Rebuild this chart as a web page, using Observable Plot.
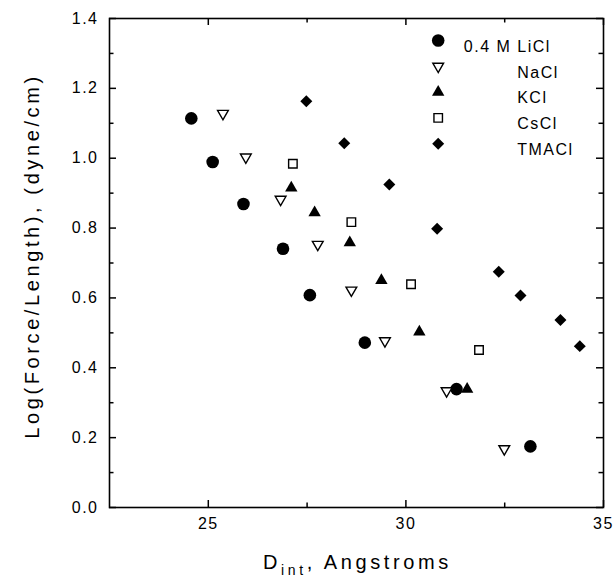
<!DOCTYPE html>
<html><head><meta charset="utf-8">
<script src="https://cdn.jsdelivr.net/npm/d3@7"></script>
<script src="https://cdn.jsdelivr.net/npm/@observablehq/plot@0.6"></script>
<style>
body{margin:0;background:#fff}
#chart{width:615px;height:577px}
#chart svg text{letter-spacing:1.5px}
</style>
</head><body><div id="chart"></div>
<script>
// Data
const liclX  = [24.57, 25.11, 25.89, 26.89, 27.57, 28.96, 31.28, 33.15];
const liclY  = [1.114, 0.989, 0.869, 0.741, 0.608, 0.472, 0.339, 0.175];
const naclX  = [25.37, 25.95, 26.83, 27.77, 28.62, 29.47, 31.03, 32.49];
const naclY  = [1.128, 1.003, 0.882, 0.753, 0.622, 0.477, 0.334, 0.168];
const kclX   = [27.10, 27.69, 28.58, 29.38, 30.34, 31.55];
const kclY   = [0.915, 0.844, 0.758, 0.650, 0.503, 0.339];
const csclX  = [27.14, 28.62, 30.13, 31.85];
const csclY  = [0.984, 0.817, 0.639, 0.451];
const tmaclX = [27.48, 28.44, 29.58, 30.79, 32.35, 32.90, 33.91, 34.40];
const tmaclY = [1.163, 1.043, 0.925, 0.798, 0.675, 0.607, 0.537, 0.462];
const seriesNames = ["0.4 M LiCl", "NaCl", "KCl", "CsCl", "TMACl"];
const xTicks = [25, 30, 35];
const xMinorTicks = [27.5, 32.5];
const yTicks = [0, 0.2, 0.4, 0.6, 0.8, 1.0, 1.2, 1.4];
const yMinorTicks = [0.1, 0.3, 0.5, 0.7, 0.9, 1.1, 1.3];
const xDomain = [22.5, 35];
const yDomain = [0, 1.4];
const xLabelMain = "D", xLabelSub = "int", xLabelRest = ", Angstroms";
const yLabel = "Log(Force/Length), (dyne/cm)";

const toRows = (xs, ys) => xs.map((x, i) => ({x, y: ys[i]}));
const styles = [
  {rows: toRows(liclX, liclY),  symbol: "circle",   r: 6.3, fill: "black", stroke: "none", rotate: 0},
  {rows: toRows(naclX, naclY),  symbol: "triangle", r: 4.0, fill: "white", stroke: "black", rotate: 180},
  {rows: toRows(kclX, kclY),    symbol: "triangle", r: 4.6, fill: "black", stroke: "none", rotate: 0},
  {rows: toRows(csclX, csclY),  symbol: "square",   r: 4.8, fill: "white", stroke: "black", rotate: 0},
  {rows: toRows(tmaclX, tmaclY),symbol: "diamond2", r: 5.4, fill: "black", stroke: "none", rotate: 0}
];

const W = 615, H = 577, ml = 109, mr = 12, mt = 18, mb = 70;
const plotW = W - ml - mr, plotH = H - mt - mb;
const major = 7, minor = 4.5;
const marks = [];
styles.forEach((s, i) => {
  marks.push(Plot.dot(s.rows, {x: "x", y: "y", symbol: () => s.symbol, r: s.r, fill: s.fill, stroke: s.stroke, strokeWidth: 1.4, rotate: s.rotate}));
  // legend entry
  marks.push(Plot.dot([seriesNames[i]], {frameAnchor: "top-left", dx: 437.7 - ml, dy: 40 - mt + i * 25.8, symbol: () => s.symbol, r: s.r, fill: s.fill, stroke: s.stroke, strokeWidth: 1.4, rotate: s.rotate}));
  marks.push(Plot.text([seriesNames[i]], {text: d => d, frameAnchor: "top-left", dx: (i === 0 ? 463.3 : 516.7) - ml, dy: 40 - mt + i * 25.8, textAnchor: "start", fontSize: 16, fill: "black"}));
});

const tickStyle = {stroke: "black", strokeWidth: 1.5};
const chart = Plot.plot({
  width: W, height: H,
  marginLeft: ml, marginRight: mr, marginTop: mt, marginBottom: mb,
  style: {fontFamily: "'Liberation Sans', Arial, sans-serif", fontSize: "16px", color: "black", background: "white"},
  x: {domain: xDomain, axis: null},
  y: {domain: yDomain, axis: null},
  symbol: {type: "identity"},
  marks: [
    Plot.axisX(xTicks, {anchor: "bottom", tickSize: 0, tickPadding: 10, label: null, fontSize: 16}),
    Plot.axisY(yTicks, {anchor: "left", tickSize: 0, tickPadding: 11, tickFormat: d3.format(".1f"), label: null, fontSize: 16}),
    Plot.frame({stroke: "black", strokeWidth: 1.6}),
    // inward ticks on all four sides
    Plot.ruleX(xTicks, {x: d => d, insetTop: plotH - major, ...tickStyle}),
    Plot.ruleX(xMinorTicks, {x: d => d, insetTop: plotH - minor, ...tickStyle}),
    Plot.ruleX(xTicks, {x: d => d, insetBottom: plotH - major, ...tickStyle}),
    Plot.ruleX(xMinorTicks, {x: d => d, insetBottom: plotH - minor, ...tickStyle}),
    Plot.ruleY(yTicks, {y: d => d, insetRight: plotW - major, ...tickStyle}),
    Plot.ruleY(yMinorTicks, {y: d => d, insetRight: plotW - minor, ...tickStyle}),
    Plot.ruleY(yTicks, {y: d => d, insetLeft: plotW - major, ...tickStyle}),
    Plot.ruleY(yMinorTicks, {y: d => d, insetLeft: plotW - minor, ...tickStyle}),
    ...marks
  ]
});

const svg = d3.select(chart);
const xl = svg.append("text")
  .attr("x", 263).attr("y", 569).attr("text-anchor", "start")
  .attr("font-size", 20).attr("fill", "black").style("letter-spacing", "3.6px");
xl.append("tspan").text(xLabelMain);
xl.append("tspan").attr("dy", 6).attr("font-size", 14).text(xLabelSub);
xl.append("tspan").attr("dy", -6).text(xLabelRest);
svg.append("text")
  .attr("transform", "translate(39,256) rotate(-90)")
  .attr("text-anchor", "middle")
  .attr("font-size", 20).attr("fill", "black").style("letter-spacing", "3.6px")
  .text(yLabel);

document.getElementById("chart").appendChild(chart);
</script>
</body></html>
